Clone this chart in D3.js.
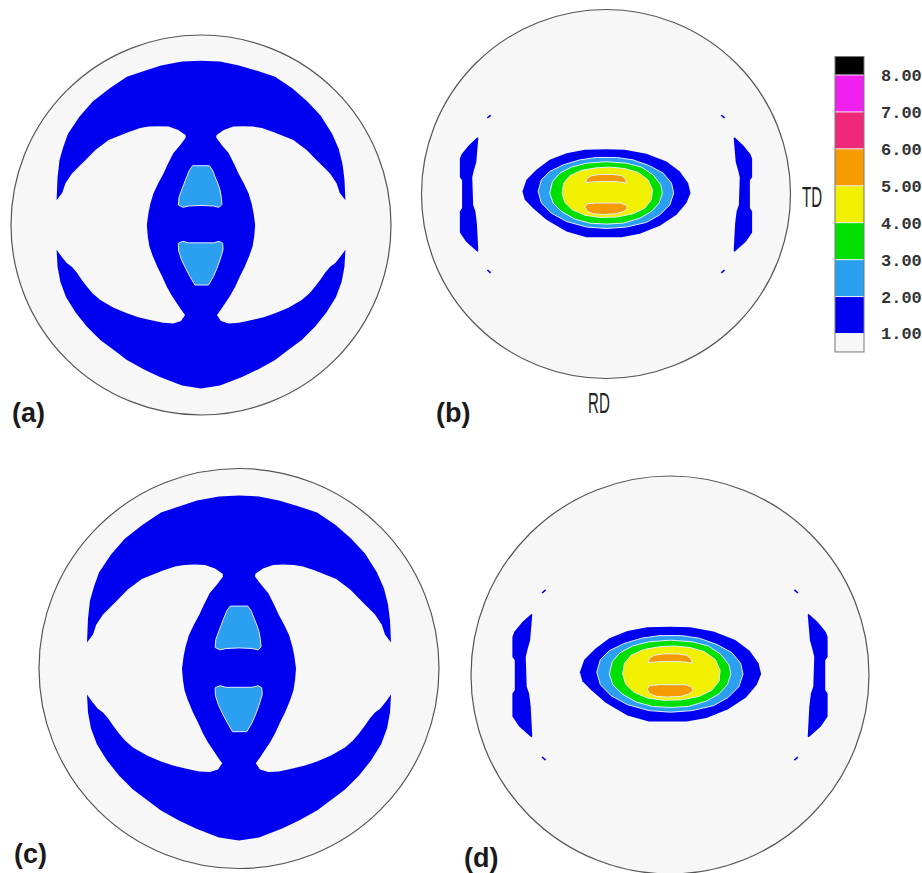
<!DOCTYPE html>
<html>
<head>
<meta charset="utf-8">
<script src="https://cdn.jsdelivr.net/npm/d3@7"></script>
<style>
  body { margin: 0; background: #fff; }
  svg { display: block; }
</style>
</head>
<body>
<div id="chart"></div>
<script>
// Pole figure contour maps, 4 panels. Coordinates are in pole figure units
// (radius = 100, u to the right, v downwards).

// ---- contour level colours (bins: <1, 1-2, 2-3 ... 7-8, >8)
const LEVELS = [1, 2, 3, 4, 5, 6, 7, 8];
const LEVEL_COLORS = ["#f7f7f7", "#0000f0", "#2ca0f0", "#00e000", "#f0f000",
                      "#f59a00", "#f0287a", "#f020f0", "#000000"];
const LEGEND_EDGES = [0.5, 1, 2, 3, 4, 5, 6, 7, 8, 8.5];

// ---- pattern A (panels a, c): blue band with two eyes and a central lens
const topBandA = [[-76,-13],[-75.5,-25],[-74.5,-34],[-72.5,-41],[-70,-48],[-64,-57],[-57,-65],
  [-48,-72],[-39,-78],[-30,-81],[-21,-84],[-10,-86],[0,-86.5],[10,-86],[20,-84],[30,-81],
  [39,-78],[48,-72],[56,-65],[63,-57.5],[69,-48],[72.5,-40],[74.5,-32],[75.5,-24],[76,-13]];
const rightEyeA = [[73,-17],[71.4,-21.9],[68,-27],[64,-31],[61,-34],[55.6,-39.5],[48.6,-44.7],
  [43,-47],[38,-49],[32,-51],[27.5,-51.8],[22,-52],[17,-51.8],[12,-50],[8.2,-47.4],[8,-46],
  [11,-42],[14.6,-37.7],[17.5,-32],[19.8,-27],[22.5,-22],[25,-16.7],[26.7,-11],[27.7,-6],
  [28.5,0],[28,6],[27.2,11],[25.5,16],[23,22],[20.5,27],[18,32.5],[15.5,37],[12.8,41],
  [10.5,44.5],[8.4,47.4],[10.5,50.5],[14.6,51.8],[20,51.5],[26.8,50],[33,48.5],[39,46.5],
  [46,43.5],[53,39.5],[57,36],[60,32.5],[63,28.5],[65.4,25],[68,22],[70.7,20],[73.5,16.5],[76,13]];
const bottomBandA = [[75.5,22],[74,30],[71,38],[66,46],[60,53.5],[53,60.5],[45,66.5],[39,71],
  [30,76],[21.6,80],[10,84.5],[0,86],[-10,84.5],[-21.6,80],[-30,76],[-39,71],[-45,66.5],
  [-53,60.5],[-60,53.5],[-66,46],[-71,38],[-74,30],[-75.5,22],[-76,13]];
const leftEyeA = [[-73.5,16.5],[-70.7,20],[-68,22],[-65.4,25],[-63,28.5],[-60,32.5],[-57,36],
  [-53,39.5],[-46,43.5],[-39,46.5],[-33,48.5],[-26.8,50],[-20,51.5],[-14.6,51.8],[-10.5,50.5],
  [-8.4,47.4],[-10.5,44.5],[-12.8,41],[-15.5,37],[-18,32.5],[-20.5,27],[-23,22],[-25.5,16],
  [-27.2,11],[-28,6],[-28.5,0],[-27.7,-6],[-26.7,-11],[-25,-16.7],[-22.5,-22],[-19.8,-27],
  [-17.5,-32],[-14.6,-37.7],[-11,-42],[-8,-46],[-8.2,-47.4],[-12,-50],[-17,-51.8],[-22,-52],
  [-27.5,-51.8],[-32,-51],[-38,-49],[-43,-47],[-48.6,-44.7],[-55.6,-39.5],[-61,-34],[-64,-31],
  [-68,-27],[-71.4,-21.9],[-73,-17]];
const upperBlobA = [[-4.4,-31.2],[4.4,-31.2],[6,-29],[7.4,-25.4],[9,-21.5],[10,-18.4],[10.7,-14.5],
  [11,-10.8],[9.5,-9.3],[6.5,-10],[0,-10.3],[-6.5,-10],[-9.5,-9.3],[-11.9,-10.5],[-11.6,-14.5],
  [-10.2,-18.4],[-9,-21.5],[-7.5,-25.4],[-6,-29]];
const lowerBlobA = [[-11.9,9.6],[-9.5,8.6],[-6.5,9.4],[0,9.4],[6.5,9.4],[9.5,8.6],[11.4,9.6],
  [11.6,13],[10,18.4],[8.3,23],[6.5,27.2],[3.9,31.6],[-3.2,31.6],[-5.8,27.2],[-8,23],
  [-10.2,18.4],[-11.8,13.5]];

// ---- pattern B (panels b, d): central ellipse and two side arcs
const blueB = [[-45.3,-1.4],[-43.1,-7.7],[-37.7,-13.1],[-30.5,-18.5],[-21.4,-22.1],[-11.5,-24],
  [0.3,-24.3],[10.2,-24],[21.9,-21.8],[32.8,-17.6],[40,-12.2],[44.5,-5.9],[45.8,-0.5],[43.6,4.9],
  [38.2,11.3],[29.2,17.2],[18.3,21.6],[8.4,23.4],[-10.6,23.4],[-21.4,20.3],[-32.3,14],
  [-39.5,7.7],[-44,3.1]];
const lightBlueB = [[-36.8,-1.4],[-35,-7.7],[-30.5,-12.2],[-23.2,-15.8],[-14.2,-18.5],[-5.2,-19.8],
  [5.7,-19.8],[14.7,-18.5],[23.7,-15.3],[31,-11.3],[35.5,-5.9],[36.7,-0.5],[34.6,5.9],[29.2,11.3],
  [21.9,15.4],[11.1,17.9],[0.3,18.7],[-10.6,17.9],[-21.4,14.9],[-29.6,10.4],[-35,4.9]];
const greenB = [[-30.5,-0.5],[-29,-6.8],[-25,-11.3],[-18.7,-14.6],[-10.6,-16.7],[0.3,-17.5],
  [11.1,-16.7],[19.2,-14.6],[25.5,-10.4],[29.7,-5],[30.6,-0.5],[28.8,4.9],[24.6,9.5],[18.3,13.1],
  [9.3,15.8],[0.3,16.3],[-8.8,15.8],[-16.9,13.6],[-24.1,9.5],[-28.7,4.9]];
const yellowB = [[-23.8,-0.5],[-22.9,-5.9],[-19.6,-9.9],[-13.3,-12.8],[-5.2,-14.2],[2.1,-14.6],
  [10.2,-13.8],[17.4,-11.7],[22.8,-7.7],[25.2,-2.3],[24.6,3.1],[21,7.7],[14.7,10.7],[5.7,12.5],
  [-3.4,12.7],[-11.5,11.5],[-18.2,8.6],[-22.3,4.6]];
const orangeUpperB = [[-11,-6.3],[-10.2,-8.6],[-7.9,-9.9],[-3.4,-10.6],[3.9,-10.6],[8.4,-9.9],
  [10.7,-8.1],[11.1,-5.9],[8.4,-6.4],[3.9,-6.8],[-3.4,-6.8],[-8.8,-6.4]];
const orangeLowerB = [[-11.5,7.1],[-10.2,5.3],[-5.2,4.9],[2.1,4.9],[7.5,4.9],[10.7,5.9],[11.6,7.7],
  [9.6,9.5],[5.7,10.7],[-1.6,11.1],[-7,10.7],[-10.2,9.3]];
const leftArcB = [[-69.7,-30.7],[-74.2,-26.6],[-78.3,-21.6],[-79.2,-19.1],[-79.2,-9.1],[-78,-7.4],
  [-78,7.6],[-79.2,9.3],[-79.2,20.9],[-75.8,25.9],[-69.7,31.3],[-69.2,30.9],[-70,15.9],
  [-70.8,9.3],[-72,5.9],[-72.5,-9.1],[-71.7,-12.4],[-70.3,-17.4],[-69.2,-30.4]];
const rightArcB = [[69.7,-30.7],[74.2,-26.6],[78.3,-21.6],[79.2,-19.1],[79.2,-9.1],[78,-7.4],
  [78,7.6],[79.2,9.3],[79.2,20.9],[75.8,25.9],[69.7,31.3],[69.2,30.9],[70,15.9],
  [70.8,9.3],[72,5.9],[72.5,-9.1],[71.7,-12.4],[70.3,-17.4],[69.2,-30.4]];
const dashesB = [
  [[-64.3,-41.2],[-62.5,-42.8]], [[62.5,-42.8],[64.3,-41.2]],
  [[-64.3,41.2],[-62.5,42.8]],   [[62.5,42.8],[64.3,41.2]]
];

const patternA = [
  { value: 1.5, pts: topBandA.concat(rightEyeA, bottomBandA, leftEyeA) },
  { value: 2.5, pts: upperBlobA },
  { value: 2.5, pts: lowerBlobA }
];
const patternB = [
  { value: 1.5, pts: leftArcB },
  { value: 1.5, pts: rightArcB },
  { value: 1.5, pts: blueB },
  { value: 2.5, pts: lightBlueB },
  { value: 3.5, pts: greenB },
  { value: 4.5, pts: yellowB },
  { value: 5.5, pts: orangeUpperB },
  { value: 5.5, pts: orangeLowerB }
];

// ---- layout
const W = 922, H = 873;
const panels = [
  { label: "(a)", cx: 201, cy: 225, r: 190, pattern: patternA, dashes: [],      lx: 12,  ly: 422 },
  { label: "(b)", cx: 606, cy: 194, r: 184.5, pattern: patternB, dashes: dashesB, lx: 436, ly: 422 },
  { label: "(c)", cx: 239, cy: 668.5, r: 200, pattern: patternA, dashes: [],    lx: 14,  ly: 863 },
  { label: "(d)", cx: 670, cy: 675, r: 199, pattern: patternB, dashes: dashesB,  lx: 464, ly: 867 }
];

const color = d3.scaleThreshold().domain(LEVELS).range(LEVEL_COLORS);

const svg = d3.select("#chart").append("svg")
  .attr("width", W).attr("height", H)
  .style("background", "#fff");

panels.forEach(p => {
  const x = d3.scaleLinear().domain([-100, 100]).range([p.cx - p.r, p.cx + p.r]);
  const y = d3.scaleLinear().domain([-100, 100]).range([p.cy - p.r, p.cy + p.r]);
  const line = d3.line().x(d => x(d[0])).y(d => y(d[1])).curve(d3.curveLinearClosed);

  const g = svg.append("g");

  g.append("circle")
    .attr("cx", x(0)).attr("cy", y(0))
    .attr("r", x(100) - x(0))
    .attr("fill", color(0.5))
    .attr("stroke", "#555")
    .attr("stroke-width", 1.2);

  g.selectAll("path.level")
    .data(p.pattern)
    .join("path")
    .attr("class", "level")
    .attr("d", d => line(d.pts))
    .attr("fill", d => color(d.value))
    .attr("stroke", d => d.value > 2 ? "#e6ecff" : "none")
    .attr("stroke-width", 1)
    .attr("stroke-linejoin", "round");

  g.selectAll("line.dash")
    .data(p.dashes)
    .join("line")
    .attr("class", "dash")
    .attr("x1", d => x(d[0][0])).attr("y1", d => y(d[0][1]))
    .attr("x2", d => x(d[1][0])).attr("y2", d => y(d[1][1]))
    .attr("stroke", color(1.5))
    .attr("stroke-width", 1.6);

  g.append("text")
    .attr("x", p.lx).attr("y", p.ly)
    .attr("font-family", "Liberation Sans, Arial, sans-serif")
    .attr("font-weight", "bold")
    .attr("font-size", 27)
    .attr("fill", "#1a1a1a")
    .text(p.label);
});

// ---- axis names (narrow font)
const axisNames = [
  { text: "TD", x: 802, y: 207 },
  { text: "RD", x: 588, y: 413 }
];
svg.selectAll("text.axname")
  .data(axisNames)
  .join("text")
  .attr("class", "axname")
  .attr("transform", d => `translate(${d.x},${d.y}) scale(0.52,1)`)
  .attr("font-family", "Liberation Sans, Arial, sans-serif")
  .attr("font-size", 29)
  .attr("fill", "#222")
  .text(d => d.text);

// ---- colour legend
const legendX = 835, legendW = 29;
const ly = d3.scaleLinear().domain([1, 8]).range([333.5, 75]);
const bins = d3.pairs(LEGEND_EDGES);
const legend = svg.append("g");

legend.selectAll("rect.bin")
  .data(bins)
  .join("rect")
  .attr("class", "bin")
  .attr("x", legendX)
  .attr("y", d => ly(d[1]))
  .attr("width", legendW)
  .attr("height", d => ly(d[0]) - ly(d[1]))
  .attr("fill", d => color((d[0] + d[1]) / 2));

legend.selectAll("line.sep")
  .data(LEVELS)
  .join("line")
  .attr("class", "sep")
  .attr("x1", legendX).attr("x2", legendX + legendW)
  .attr("y1", d => ly(d)).attr("y2", d => ly(d))
  .attr("stroke", "#eeeeee")
  .attr("stroke-width", 1);

legend.append("rect")
  .attr("x", legendX).attr("y", ly(8.5))
  .attr("width", legendW).attr("height", ly(0.5) - ly(8.5))
  .attr("fill", "none")
  .attr("stroke", "#777")
  .attr("stroke-width", 1);

legend.append("g")
  .attr("transform", `translate(${legendX + legendW},0)`)
  .call(d3.axisRight(ly).tickValues(LEVELS).tickFormat(d3.format(".2f")).tickSize(0).tickPadding(17))
  .call(g => g.select(".domain").remove())
  .call(g => g.selectAll("text")
    .attr("font-family", "Liberation Mono, Courier New, monospace")
    .attr("font-weight", "bold")
    .attr("font-size", 17)
    .attr("fill", "#333"));
</script>
</body>
</html>
